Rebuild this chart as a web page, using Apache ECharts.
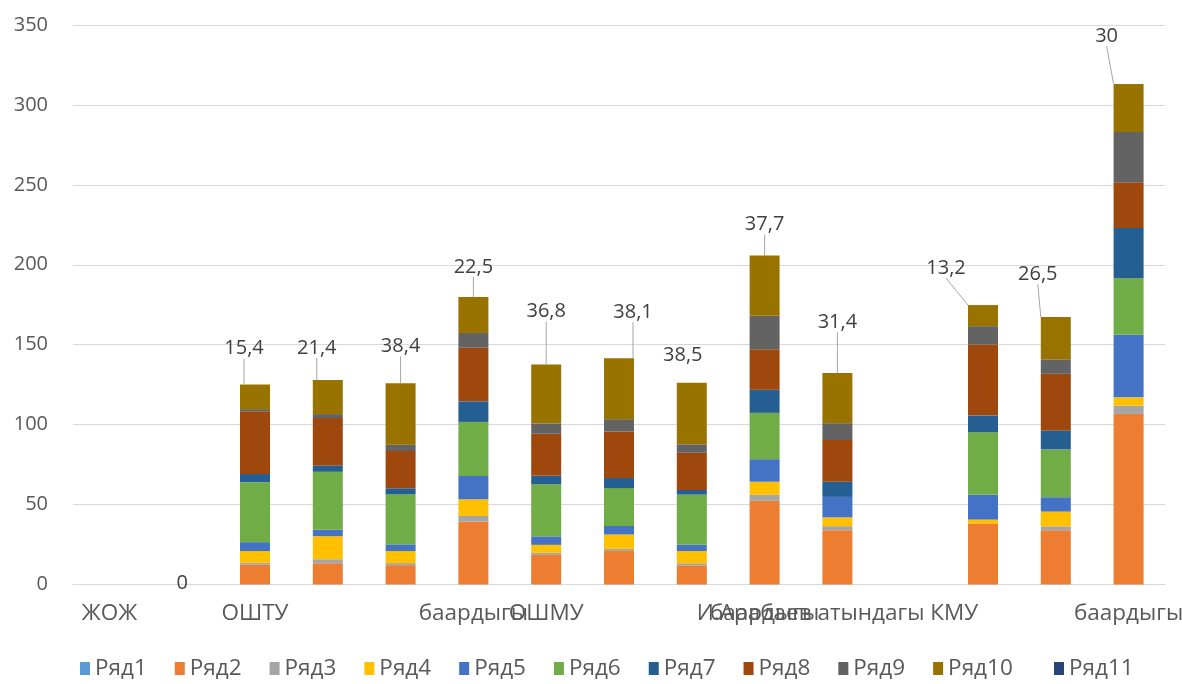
<!DOCTYPE html>
<html>
<head>
<meta charset="utf-8">
<script src="https://cdn.jsdelivr.net/npm/echarts@6/dist/echarts.min.js"></script>
<style>
  html, body { margin: 0; padding: 0; background: #ffffff; }
  #chart { width: 1182px; height: 684px; }
</style>
</head>
<body>
<div id="chart"></div>
<script>
// ---------- data ----------
const categories = ["ЖОЖ", "", "ОШТУ", "", "", "баардыгы", "ОШМУ", "", "", "баардыгы",
                    "И.Арабаев атындагы КМУ", "", "", "", "баардыгы"];
const seriesNames = ["Ряд1", "Ряд2", "Ряд3", "Ряд4", "Ряд5", "Ряд6", "Ряд7", "Ряд8", "Ряд9", "Ряд10", "Ряд11"];
const r1  = [null, 0, 0, 0, 0, 0, 0, 0, 0, 0, 0, null, 0, 0, 0];
const r2  = [null, 0, 12.3, 13.3, 12.1, 39.4, 18.5, 21.0, 12.0, 52.5, 34.0, null, 38.1, 33.9, 106.7];
const r3  = [null, 0, 1.3, 2.5, 1.3, 3.5, 1.3, 1.3, 1.3, 3.6, 2.5, null, 0, 2.5, 5.2];
const r4  = [null, 0, 7.3, 14.4, 7.5, 10.4, 5.0, 9.0, 7.6, 8.2, 5.5, null, 2.5, 9.2, 5.2];
const r5  = [null, 0, 5.6, 4.0, 4.2, 14.6, 5.3, 5.3, 4.0, 14.1, 12.8, null, 15.5, 9.0, 39.1];
const r6  = [null, 0, 37.5, 36.3, 31.3, 33.8, 32.6, 23.7, 31.3, 29.0, 0, null, 39.1, 29.9, 35.4];
const r7  = [null, 0, 5.2, 4.0, 3.8, 12.9, 5.3, 6.3, 2.9, 14.5, 9.5, null, 10.5, 11.9, 31.4];
const r8  = [null, 0, 39.2, 29.6, 23.3, 33.6, 26.3, 29.0, 23.3, 25.2, 26.1, null, 44.4, 35.4, 28.7];
const r9  = [null, 0, 1.3, 2.5, 4.0, 9.2, 6.5, 7.8, 5.3, 21.0, 10.5, null, 11.5, 9.0, 31.4];
const r10 = [null, 0, 15.4, 21.4, 38.4, 22.5, 36.8, 38.1, 38.5, 37.7, 31.4, null, 13.2, 26.5, 30];
const r11 = [null, 0, 0, 0, 0, 0, 0, 0, 0, 0, 0, null, 0, 0, 0];
const yTicks = { min: 0, max: 350, interval: 50 };

// ---------- styling ----------
const colors = ["#5B9BD5", "#ED7D31", "#A5A5A5", "#FFC000", "#4472C4", "#70AD47",
                "#255E91", "#9E480E", "#636363", "#997300", "#264478"];
// label moves (dx, dy) for the Ряд10 data labels, per category index
const labelMoves = [[0,0],[0,14],[-11,-21],[-11,-17],[0,-22],[0,-15],[0,-38],[14,-31],
                    [-9,-12],[0,-16],[0,-36],[0,0],[-37,-22],[-18,-28],[-22,-33]];
const noLine = [1, 8];

const allData = [r1, r2, r3, r4, r5, r6, r7, r8, r9, r10, r11];
const FONT = "'Open Sans', 'DejaVu Sans', sans-serif";
const TEXT_SIZE = 22.5;

const series = allData.map((arr, si) => {
  const isLabelled = seriesNames[si] === "Ряд10";
  const s = {
    name: seriesNames[si],
    type: "bar",
    stack: "total",
    barWidth: 30,
    itemStyle: { color: colors[si] },
    emphasis: { disabled: true },
    data: arr.map((v, i) => {
      if (isLabelled && noLine.indexOf(i) >= 0) {
        return { value: v, labelLine: { show: false } };
      }
      return v;
    })
  };
  if (isLabelled) {
    s.label = {
      show: true,
      position: "top",
      color: "#404040",
      fontSize: 20,
      fontFamily: FONT,
      formatter: p => (p.value === null || p.value === undefined) ? "" : String(p.value).replace(".", ",")
    };
    s.labelLine = { show: true, lineStyle: { color: "#a6a6a6", width: 1 } };
    s.labelLayout = function (params) {
      const m = labelMoves[params.dataIndex] || [0, 0];
      return { dx: m[0], dy: m[1], hideOverlap: false };
    };
  }
  return s;
});

const legendText = { color: "#595959", fontSize: TEXT_SIZE, fontFamily: FONT };

const chart = echarts.init(document.getElementById("chart"), null, { renderer: "canvas" });
chart.setOption({
  animation: false,
  color: colors,
  textStyle: { fontFamily: FONT },
  grid: { left: 73, right: 17, top: 25, bottom: 99.5, containLabel: false, outerBoundsMode: "none" },
  legend: [
    {
      data: seriesNames.slice(0, 10),
      left: 75,
      top: 652,
      icon: "rect",
      itemWidth: 10,
      itemHeight: 13,
      itemGap: 28,
      textStyle: legendText
    },
    {
      data: seriesNames.slice(10),
      left: 1049,
      top: 652,
      icon: "rect",
      itemWidth: 10,
      itemHeight: 13,
      textStyle: legendText
    }
  ],
  xAxis: {
    type: "category",
    data: categories,
    axisTick: { show: false },
    axisLine: { lineStyle: { color: "#d9d9d9", width: 1 } },
    axisLabel: { interval: 0, color: "#595959", fontSize: TEXT_SIZE, fontFamily: FONT, margin: 18, hideOverlap: false }
  },
  yAxis: {
    type: "value",
    min: yTicks.min,
    max: yTicks.max,
    interval: yTicks.interval,
    axisLine: { show: false },
    axisTick: { show: false },
    splitLine: { lineStyle: { color: "#d9d9d9", width: 1 } },
    axisLabel: { color: "#595959", fontSize: 20, fontFamily: FONT, margin: 25 }
  },
  series: series
});
</script>
</body>
</html>
